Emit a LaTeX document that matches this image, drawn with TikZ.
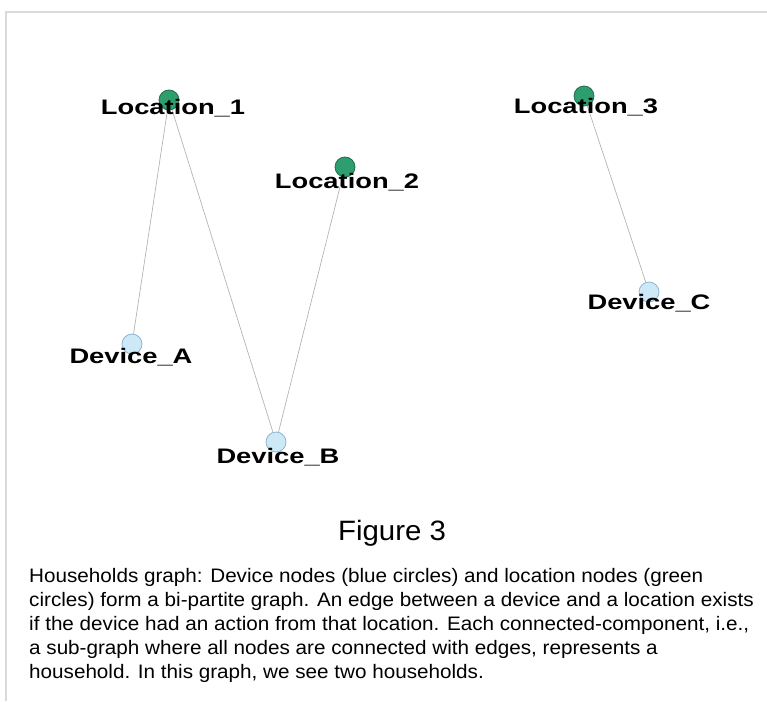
\documentclass[tikz,border=0pt]{standalone}
\usepackage{fontspec}
\setmainfont{Liberation Sans}
\newfontfamily\labelfont[FakeStretch=1.3]{Liberation Sans}
\newfontfamily\titlefont[FakeStretch=1.05]{Liberation Sans}
\newfontfamily\capfont[FakeStretch=1.06]{Liberation Sans}
\usetikzlibrary{positioning}
\definecolor{locgreen}{HTML}{2E9E6E}
\definecolor{locedge}{HTML}{1F6E4C}
\definecolor{devblue}{HTML}{CDE9F7}
\definecolor{devedge}{HTML}{8FB6D0}
\definecolor{edgegray}{HTML}{B4B4B4}
\definecolor{framegray}{HTML}{DADADA}

\tikzset{
  locnode/.style={circle, draw=locedge, fill=locgreen, line width=0.8pt, minimum size=20pt, inner sep=0pt},
  devnode/.style={circle, draw=devedge, fill=devblue, line width=0.8pt, minimum size=20pt, inner sep=0pt},
  nodelabel/.style={anchor=base, inner sep=0pt, font=\labelfont\bfseries\fontsize{21}{21}\selectfont},
  capline/.style={anchor=base west, inner sep=0pt, font=\capfont\fontsize{19.5}{19.5}\selectfont},
  link/.style={draw=edgegray, line width=0.7pt}
}

\begin{document}
\begin{tikzpicture}[x=1pt, y=-1pt]
    \useasboundingbox (0,0) rectangle (767,701);
    % frame
    \draw[framegray, line width=1.6pt] (6,701) -- (6,12) -- (767,12);

    % nodes
    \node[locnode] (loc1) at (169,100) {};
    \node[locnode] (loc2) at (345,167) {};
    \node[locnode] (loc3) at (584,96) {};
    \node[devnode] (devA) at (132,344) {};
    \node[devnode] (devB) at (276,442) {};
    \node[devnode] (devC) at (649,292) {};

    % edges
    \draw[link] (loc1) -- (devA);
    \draw[link] (loc1) -- (devB);
    \draw[link] (loc2) -- (devB);
    \draw[link] (loc3) -- (devC);

    % labels
    \node[nodelabel] (loc1 label) at (173,114) {Location\_1};
    \node[nodelabel] (loc2 label) at (347,188) {Location\_2};
    \node[nodelabel] (loc3 label) at (586,113) {Location\_3};
    \node[nodelabel] (devA label) at (131,363) {Device\_A};
    \node[nodelabel] (devB label) at (278,463) {Device\_B};
    \node[nodelabel] (devC label) at (649,309) {Device\_C};

    % caption
    \node[anchor=base, inner sep=0pt, font=\titlefont\fontsize{28}{28}\selectfont] (title) at (392,540) {Figure 3};
    \node[capline] (cap1) at (29,582) {Households graph: Device nodes (blue circles) and location nodes (green};
    \node[capline] (cap2) at (29,606) {circles) form a bi-partite graph. An edge between a device and a location exists};
    \node[capline] (cap3) at (29,630) {if the device had an action from that location. Each connected-component, i.e.,};
    \node[capline] (cap4) at (29,654) {a sub-graph where all nodes are connected with edges, represents a};
    \node[capline] (cap5) at (29,678) {household. In this graph, we see two households.};
\end{tikzpicture}
\end{document}
